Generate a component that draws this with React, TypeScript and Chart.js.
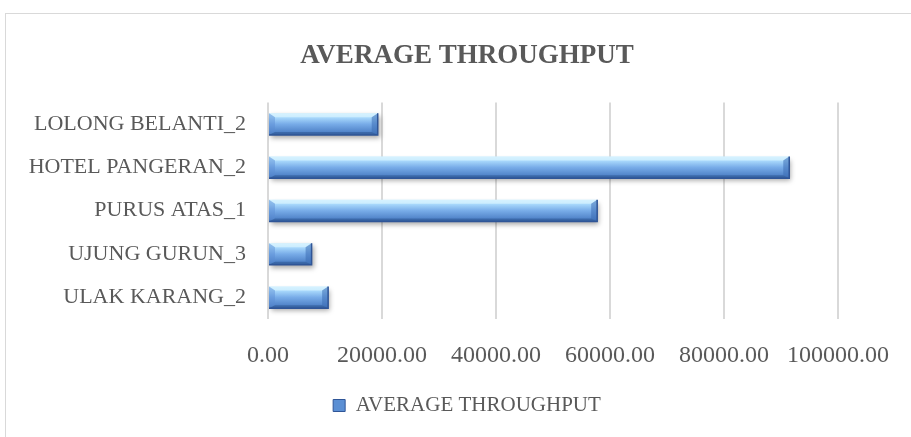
import React, { useEffect, useRef } from "react";
import { Chart, registerables } from "chart.js";

Chart.register(...registerables);

const categories = [
  "LOLONG BELANTI_2",
  "HOTEL PANGERAN_2",
  "PURUS ATAS_1",
  "UJUNG GURUN_3",
  "ULAK KARANG_2",
];
const throughput = [19250, 91450, 57750, 7650, 10550];
const seriesName = "AVERAGE THROUGHPUT";
const chartTitle = "AVERAGE THROUGHPUT";
const xMin = 0;
const xMax = 100000;
const xStep = 20000;

const TEXT = "#595959";
const FONT = "'Liberation Serif', serif";

const shadowPlugin = {
  id: "barShadow",
  beforeDatasetsDraw(chart: any) {
    const ctx = chart.ctx;
    ctx.save();
    ctx.shadowColor = "rgba(0,0,0,0.35)";
    ctx.shadowBlur = 5;
    ctx.shadowOffsetX = 2;
    ctx.shadowOffsetY = 3;
  },
  afterDatasetsDraw(chart: any) {
    const ctx = chart.ctx;
    ctx.restore();
    const meta = chart.getDatasetMeta(0);
    meta.data.forEach((bar: any) => {
      const x0 = bar.base;
      const x1 = bar.x;
      const h = bar.height;
      const y0 = bar.y - h / 2;
      const y1 = bar.y + h / 2;
      const b = Math.min(6, (x1 - x0) / 3);
      ctx.save();
      ctx.beginPath();
      ctx.moveTo(x0, y0);
      ctx.lineTo(x1, y0);
      ctx.lineTo(x1 - b, y0 + 4);
      ctx.lineTo(x0 + b, y0 + 4);
      ctx.closePath();
      ctx.fillStyle = "rgba(225,248,255,0.6)";
      ctx.fill();
      ctx.beginPath();
      ctx.moveTo(x1, y0);
      ctx.lineTo(x1, y1);
      ctx.lineTo(x1 - b, y1 - 3);
      ctx.lineTo(x1 - b, y0 + 4);
      ctx.closePath();
      ctx.fillStyle = "rgba(60,110,180,0.55)";
      ctx.fill();
      ctx.beginPath();
      ctx.moveTo(x0, y0);
      ctx.lineTo(x0 + b, y0 + 4);
      ctx.lineTo(x0 + b, y1 - 3);
      ctx.lineTo(x0, y1);
      ctx.closePath();
      ctx.fillStyle = "rgba(90,140,210,0.45)";
      ctx.fill();
      ctx.beginPath();
      ctx.moveTo(x0, y1);
      ctx.lineTo(x0 + b, y1 - 3);
      ctx.lineTo(x1 - b, y1 - 3);
      ctx.lineTo(x1, y1);
      ctx.closePath();
      ctx.fillStyle = "rgba(40,80,140,0.45)";
      ctx.fill();
      ctx.strokeStyle = "#2f5597";
      ctx.lineWidth = 1.5;
      ctx.beginPath();
      ctx.moveTo(x0, y1);
      ctx.lineTo(x1, y1);
      ctx.lineTo(x1, y0);
      ctx.stroke();
      ctx.restore();
    });
  },
};

export default function App() {
  const ref = useRef<HTMLCanvasElement | null>(null);

  useEffect(() => {
    if (!ref.current) return;
    const chart = new Chart(ref.current, {
      type: "bar",
      data: {
        labels: categories,
        datasets: [
          {
            label: seriesName,
            data: throughput,
            backgroundColor: (c: any) => {
              const chart = c.chart;
              const ys = chart.scales && chart.scales.y;
              if (!ys || c.dataIndex === undefined) return "#6a9de0";
              const yc = ys.getPixelForValue(c.dataIndex);
              const g = chart.ctx.createLinearGradient(0, yc - 11, 0, yc + 11);
              g.addColorStop(0, "#c6eaff");
              g.addColorStop(0.2, "#a9d9fc");
              g.addColorStop(0.5, "#78ace8");
              g.addColorStop(0.85, "#5285ca");
              g.addColorStop(1, "#3a68a8");
              return g;
            },
            borderWidth: 0,
            barPercentage: 0.5,
            categoryPercentage: 1,
          },
        ],
      },
      options: {
        indexAxis: "y",
        animation: false,
        responsive: false,
        layout: { padding: { left: 17, right: 0, top: 26, bottom: 11 } },
        scales: {
          x: {
            min: xMin,
            max: xMax,
            ticks: {
              stepSize: xStep,
              padding: 22,
              color: TEXT,
              font: { family: FONT, size: 24 },
              callback: (v: any) => Number(v).toFixed(2),
            },
            grid: { color: "#d9d9d9", lineWidth: 2, drawTicks: false },
            border: { display: false },
            afterFit: (s: any) => {
              s.height = 66;
              s.paddingRight = 73;
            },
          },
          y: {
            ticks: {
              padding: 22,
              color: TEXT,
              font: { family: FONT, size: 22 },
            },
            grid: { display: false, drawTicks: false },
            border: { display: false },
            afterFit: (s: any) => {
              s.width = 245;
            },
          },
        },
        plugins: {
          title: {
            display: true,
            text: chartTitle,
            color: TEXT,
            font: { family: FONT, size: 27, weight: "bold" },
            padding: { top: 0, bottom: 30 },
          },
          legend: {
            display: true,
            position: "bottom",
            labels: {
              color: TEXT,
              font: { family: FONT, size: 21 },
              boxWidth: 12,
              boxHeight: 12,
              padding: 10,
              generateLabels: () => [
                {
                  text: seriesName,
                  fillStyle: "#5b8fd4",
                  strokeStyle: "#2f5597",
                  lineWidth: 1,
                  hidden: false,
                  datasetIndex: 0,
                  fontColor: TEXT,
                },
              ],
            },
          },
          tooltip: { enabled: false },
        },
      },
      plugins: [shadowPlugin],
    });
    return () => chart.destroy();
  }, []);

  return (
    <div
      style={{
        position: "absolute",
        left: 0,
        top: 0,
        width: 911,
        height: 437,
        overflow: "hidden",
        background: "#fff",
      }}
    >
      <div
        style={{
          position: "absolute",
          left: 5,
          top: 13,
          width: 940,
          height: 460,
          border: "1px solid #d9d9d9",
          boxSizing: "border-box",
        }}
      />
      <canvas
        ref={ref}
        width={905}
        height={423}
        style={{ position: "absolute", left: 6, top: 14, width: 905, height: 423 }}
      />
    </div>
  );
}
